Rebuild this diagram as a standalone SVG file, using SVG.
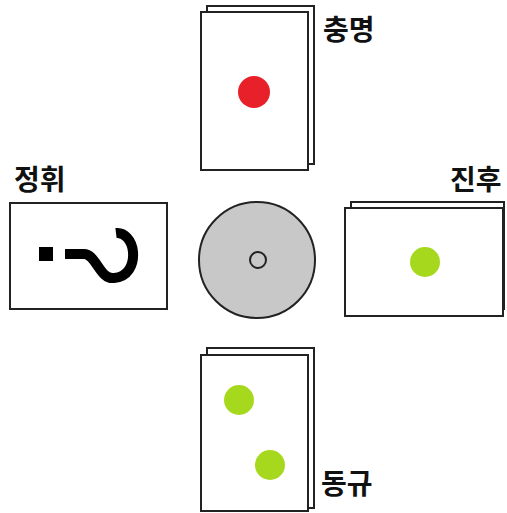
<svg xmlns="http://www.w3.org/2000/svg" width="507" height="513" viewBox="0 0 507 513">
<style>
.card{fill:#fff;stroke:#222;stroke-width:2}
.lbl{font-family:"Noto Sans CJK KR","Noto Sans",sans-serif;font-size:28px;font-weight:bold;fill:#111}
.green{fill:#a6d81e}
</style>
<rect width="507" height="513" fill="#fff"/>
<g id="top">
<rect class="card" x="207" y="6" width="107" height="158"/>
<rect class="card" x="201" y="12" width="107" height="158"/>
<circle cx="254" cy="92" r="16" fill="#e8202a"/>
<text class="lbl" x="323" y="40">충명</text>
</g>
<g id="left">
<rect class="card" x="10" y="203" width="157" height="106"/>
<rect x="39" y="247" width="14" height="14" fill="#000"/>
<path d="M65 254 L84 254 C96 254 100 280 114 278 C128 277 134 265 133 252 C132 240 124 232 116 233" fill="none" stroke="#000" stroke-width="10"/>
<text class="lbl" x="14" y="190">정휘</text>
</g>
<g id="right">
<rect class="card" x="351" y="202" width="153" height="107"/>
<rect class="card" x="345" y="208" width="158" height="108"/>
<circle class="green" cx="425" cy="262" r="15"/>
<text class="lbl" x="450" y="190">진후</text>
</g>
<g id="bottom">
<rect class="card" x="207" y="348" width="107" height="160"/>
<rect class="card" x="201" y="355" width="107" height="156"/>
<circle class="green" cx="239" cy="400" r="15"/>
<circle class="green" cx="270" cy="465" r="15"/>
<text class="lbl" x="321" y="494">동규</text>
</g>
<g id="center">
<circle cx="257" cy="260" r="58" fill="#c8c8c8" stroke="#222" stroke-width="2"/>
<circle cx="258" cy="260" r="8" fill="#c8c8c8" stroke="#222" stroke-width="2"/>
</g>
<g id="connectors"/>
</svg>
